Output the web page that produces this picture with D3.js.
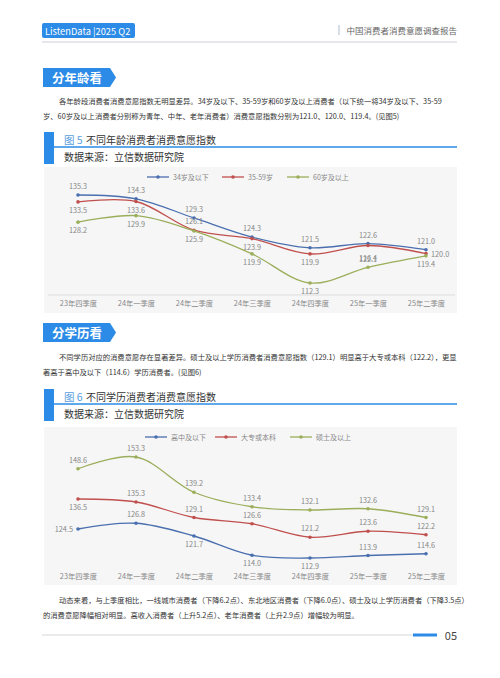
<!DOCTYPE html>
<html><head><meta charset="utf-8">
<script src="https://cdn.jsdelivr.net/npm/d3@7"></script>
<style>body{margin:0;background:#fff}svg{display:block}</style>
</head><body><svg id="c" width="500" height="678"></svg>
<script>
const quarters=["23年四季度","24年一季度","24年二季度","24年三季度","24年四季度","25年一季度","25年二季度"];
const ageNames=["34岁及以下","35-59岁","60岁及以上"];
const ageYoung=[135.3,134.3,129.3,124.3,121.5,122.6,121.0];
const ageMid=[133.5,133.6,126.1,123.9,119.9,122.1,120.0];
const ageOld=[128.2,129.9,125.9,119.9,112.3,116.4,119.4];
const eduNames=["高中及以下","大专或本科","硕士及以上"];
const eduHigh=[124.5,126.8,121.7,114.0,112.9,113.9,114.6];
const eduCollege=[136.5,135.3,129.1,126.6,121.2,123.6,122.2];
const eduMaster=[148.6,153.3,139.2,133.4,132.1,132.6,129.1];

const colors=["#4a6fae","#c0504d","#9bae5a"];
const svg=d3.select("#c");
const F="'Noto Sans CJK SC',sans-serif";
const blue="#2b8be6";

svg.append("rect").attr("x",42).attr("y",23).attr("width",93).attr("height",15).attr("rx",2).attr("fill",blue);
svg.append("text").attr("x",45).attr("y",34.5).attr("fill","#fff").attr("font-family",F).attr("font-size",9.3).text("ListenData |2025 Q2");
svg.append("line").attr("x1",339).attr("x2",339).attr("y1",25).attr("y2",35).attr("stroke","#9ab").attr("stroke-width",0.8);
svg.append("text").attr("x",457).attr("y",34).attr("text-anchor","end").attr("fill","#666").attr("font-family",F).attr("font-size",8.5).text("中国消费者消费意愿调查报告");
svg.append("line").attr("x1",42).attr("x2",457).attr("y1",42).attr("y2",42).attr("stroke","#dcdfe4").attr("stroke-width",1.5);

function tag(y,t){
  svg.append("path").attr("d",`M43,${y}H110L116,${y+9.5}L110,${y+19}H43Z`).attr("fill",blue);
  svg.append("text").attr("x",52).attr("y",y+14.5).attr("fill","#fff").attr("font-family",F).attr("font-size",12.5).attr("font-weight","bold").text(t);
}
function para(y,lines){
  lines.forEach((l,i)=>svg.append("text").attr("x",i==0?59:43).attr("y",y+i*15).attr("fill","#333").attr("font-family",F).attr("font-size",7.3).text(l));
}
tag(68,"分年龄看");
para(104,["各年龄段消费者消费意愿指数无明显差异。34岁及以下、35-59岁和60岁及以上消费者（以下统一将34岁及以下、35-59","岁、60岁及以上消费者分别称为青年、中年、老年消费者）消费意愿指数分别为121.0、120.0、119.4。(见图5)"]);
tag(323,"分学历看");
para(360,["不同学历对应的消费意愿存在显著差异。硕士及以上学历消费者消费意愿指数（129.1）明显高于大专或本科（122.2），更显","著高于高中及以下（114.6）学历消费者。(见图6)"]);
para(603,["动态来看，与上季度相比，一线城市消费者（下降6.2点）、东北地区消费者（下降6.0点）、硕士及以上学历消费者（下降3.5点）","的消费意愿降幅相对明显。高收入消费者（上升5.2点）、老年消费者（上升2.9点）增幅较为明显。"]);

svg.append("line").attr("x1",42).attr("x2",413).attr("y1",635).attr("y2",635).attr("stroke","#d5d8dc").attr("stroke-width",1);
svg.append("line").attr("x1",413).attr("x2",437).attr("y1",635).attr("y2",635).attr("stroke",blue).attr("stroke-width",3);
svg.append("text").attr("x",457).attr("y",640).attr("text-anchor","end").attr("fill","#444").attr("font-family",F).attr("font-size",11).text("05");

function chart(o){
  const g=svg.append("g");
  g.append("rect").attr("x",44).attr("y",o.top).attr("width",10).attr("height",32).attr("fill",blue);
  g.append("text").attr("x",64).attr("y",o.top+12).attr("fill","#5aa0e0").attr("font-family",F).attr("font-size",10.5).text(o.fig);
  g.append("text").attr("x",86).attr("y",o.top+12).attr("fill","#333").attr("font-family",F).attr("font-size",10).text(o.title);
  g.append("line").attr("x1",54).attr("x2",457).attr("y1",o.top+15).attr("y2",o.top+15).attr("stroke",blue).attr("stroke-width",1.3);
  g.append("text").attr("x",64).attr("y",o.top+29).attr("fill","#333").attr("font-family",F).attr("font-size",10).text("数据来源：立信数据研究院");
  g.append("rect").attr("x",44).attr("y",o.bgTop).attr("width",413).attr("height",o.bgH).attr("fill","#f6f6f7");
  const x=d3.scalePoint().domain(quarters).range([78,426]);
  const y=d3.scaleLinear().domain(o.dom).range(o.rng);
  o.names.forEach((n,i)=>{
    const lx=o.legX[i], ly=o.bgTop+10;
    g.append("line").attr("x1",lx).attr("x2",lx+22).attr("y1",ly).attr("y2",ly).attr("stroke",colors[i]).attr("stroke-width",1.3);
    g.append("circle").attr("cx",lx+11).attr("cy",ly).attr("r",1.8).attr("fill",colors[i]);
    g.append("text").attr("x",lx+26).attr("y",ly+3).attr("fill","#888").attr("font-family",F).attr("font-size",7).text(n);
  });
  if(o.axis) g.append("line").attr("x1",48).attr("x2",455).attr("y1",o.axis).attr("y2",o.axis).attr("stroke","#ddd");
  const ax=g.append("g").attr("transform",`translate(0,${o.axisLbl})`).call(d3.axisBottom(x).tickSize(0));
  ax.select(".domain").remove();
  ax.selectAll("text").attr("fill","#888").attr("font-family",F).attr("font-size",7.3);
  const line=d3.line().x((d,i)=>x(quarters[i])).y(d=>y(d)).curve(d3.curveCatmullRom.alpha(0.5));
  o.series.forEach((s,k)=>{
    g.append("path").attr("d",line(s)).attr("fill","none").attr("stroke",colors[k]).attr("stroke-width",1.3);
    s.forEach((v,i)=>{
      g.append("circle").attr("cx",x(quarters[i])).attr("cy",y(v)).attr("r",1.8).attr("fill",colors[k]);
      const p=o.pos[k][i];
      let dx=0,dy=p=="a"?-6:(p=="bb"?16:11),anc="middle";
      if(p=="l"){dx=-5;dy=3;anc="end";}
      if(p=="r"){dx=5;dy=3;anc="start";}
      g.append("text").attr("x",x(quarters[i])+dx).attr("y",y(v)+dy).attr("text-anchor",anc)
        .attr("fill","#888").attr("font-family",F).attr("font-size",7.3).text(v.toFixed(1));
    });
  });
}
chart({top:132,fig:"图 5",title:"不同年龄消费者消费意愿指数",bgTop:167,bgH:146,axis:295,axisLbl:298,
  names:ageNames,legX:[147,222,287],series:[ageYoung,ageMid,ageOld],dom:[112.3,135.3],rng:[283,195],
  pos:[["a","a","a","a","a","a","a"],["b","b","a","b","b","bb","r"],["b","b","b","b","b","a","b"]]});
chart({top:389,fig:"图 6",title:"不同学历消费者消费意愿指数",bgTop:427,bgH:158,axis:null,axisLbl:571,
  names:eduNames,legX:[145,215,290],series:[eduHigh,eduCollege,eduMaster],dom:[112.9,153.3],rng:[558,457],
  pos:[["l","a","b","b","b","a","a"],["b","a","a","a","a","a","a"],["a","a","a","a","a","a","a"]]});
</script></body></html>
